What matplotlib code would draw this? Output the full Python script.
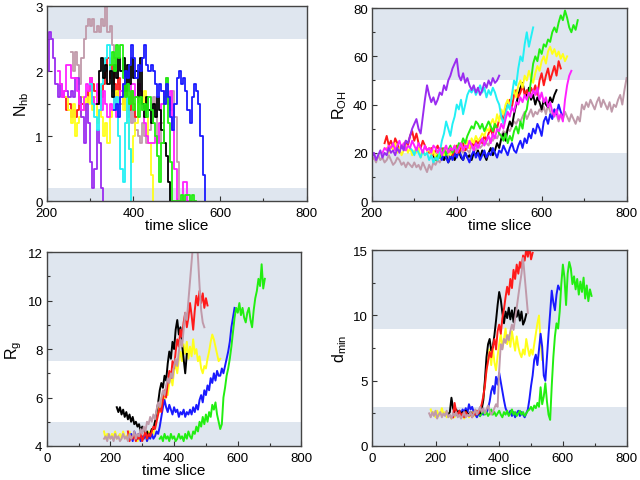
import numpy as np
import matplotlib
matplotlib.use("Agg")
import matplotlib.pyplot as plt
from matplotlib.ticker import MultipleLocator

plt.rcParams['font.family'] = ['Liberation Sans', 'DejaVu Sans']
plt.rcParams['mathtext.fontset'] = 'custom'
plt.rcParams['mathtext.rm'] = 'Liberation Sans'

DT = 5
COLORS = {
    'purple': '#9a2cf0', 'cyan': '#22f0f5', 'green': '#22ee11', 'yellow': '#ffff1a',
    'red': '#ff1a1a', 'black': '#000000', 'blue': '#1a1aff', 'magenta': '#ff22ff',
    'rosy': '#c09aaa',
}
BAND = '#dfe6ef'

# ---------------- Panel 1: N_hb ----------------
nhb_purple_start = 200
nhb_purple = [2.0, 2.6, 2.5, 2.2, 1.8, 1.6, 1.8, 1.6, 1.7, 1.7, 1.6, 1.7, 1.6, 1.9, 1.9, 1.6, 1.3, 0.9,
              1.5, 1.2, 0.6, 0.2, 0.5, 1.1, 0.9, 0.2, 0.0]
nhb_rosy_start = 255
nhb_rosy = [2.3, 2.0, 2.3, 2.1, 1.8, 2.2, 2.5, 2.7, 2.8, 2.7, 2.8, 2.6, 2.7, 2.6, 2.8, 2.7, 3.0, 2.6, 2.7,
            2.4, 2.2, 2.0, 1.8, 1.5, 1.7, 1.4, 1.3, 1.5, 1.2, 1.4, 1.1, 1.0, 0.9, 1.2, 1.0, 0.9, 1.1, 1.2,
            1.6, 1.4, 1.0, 0.9, 1.2, 1.5, 1.9, 1.6, 1.4, 1.7, 1.3, 0.6, 0.0]
nhb_black_start = 315
nhb_black = [1.5, 2.0, 2.2, 1.9, 2.1, 1.8, 2.0, 1.6, 2.1, 1.9, 2.2, 2.0, 2.2, 1.7, 2.1, 1.8, 2.2, 1.9, 2.0,
             1.6, 2.2, 1.5, 1.3, 1.6, 1.4, 1.2, 1.5, 1.3, 1.6, 1.4, 1.1, 0.9, 0.7, 0.3, 0.0]
nhb_green_start = 345
nhb_green = [2.1, 2.3, 2.0, 2.4, 2.2, 2.4, 1.9, 1.6, 1.8, 1.5, 1.7, 1.4, 1.6, 1.3, 1.6, 1.4, 1.5, 1.3, 1.6,
             1.4, 1.2, 1.0, 0.7, 0.3, 0.9, 1.6, 1.9, 1.2, 0.6, 0.0, 0.0, 0.0, 0.0, 0.1, 0.0, 0.1, 0.1,
             0.0, 0.1, 0.0, 0.0]
nhb_yellow_start = 245
nhb_yellow = [1.6, 1.4, 1.2, 1.5, 1.0, 1.2, 1.3, 1.6, 1.4, 1.6, 1.5, 1.7, 1.4, 1.6, 1.2, 1.4, 1.3, 1.0,
              1.2, 0.9, 1.3, 1.4, 1.6, 1.7, 1.5, 1.7, 1.4, 1.6, 1.2, 0.8, 0.6, 1.0, 1.2, 1.5, 1.6, 1.4,
              1.7, 1.3, 0.9, 0.4, 0.0]
nhb_red_start = 240
nhb_red = [1.6, 1.4, 1.5, 1.3, 1.4, 1.3, 1.4, 1.6, 1.5, 1.4, 1.5, 1.7, 1.9, 1.8, 1.7, 1.5, 1.7, 1.6, 1.8,
           2.0, 2.2, 1.9, 2.1, 1.8, 1.6, 1.9, 1.7, 1.5, 1.8, 1.6, 1.4, 1.7, 1.5, 1.3, 1.6]
nhb_cyan_start = 300
nhb_cyan = [1.8, 1.5, 1.3, 1.1, 1.4, 1.8, 2.0, 2.2, 2.4, 2.0, 1.7, 1.4, 1.6, 1.0, 0.5, 0.3, 1.2, 1.6,
            0.8, 0.0]
nhb_magenta_start = 225
nhb_magenta = [2.0, 1.8, 1.6, 1.7, 2.1, 2.1, 1.9, 1.9, 1.9, 1.7, 1.5, 1.4, 1.6, 1.8, 1.7, 1.9, 1.6, 1.5,
               1.8, 1.6, 1.4, 1.7, 1.5, 1.3, 1.5, 1.4, 1.6, 1.3, 1.5, 1.7, 1.8, 1.8, 1.8, 1.7, 1.8, 1.8,
               1.6, 1.8, 1.7, 1.4, 1.2, 1.0, 0.9, 0.9, 0.9, 1.0, 0.9, 1.2, 1.5, 1.7, 1.7, 1.5, 1.7, 1.1,
               0.5, 0.0, 0.0, 0.0, 0.3, 0.3, 0.0, 0.0]
nhb_blue_start = 355
nhb_blue = [1.4, 1.5, 1.3, 1.6, 1.8, 2.0, 1.9, 2.1, 2.4, 2.2, 1.9, 2.1, 2.0, 2.2, 2.4, 2.1, 2.0, 2.1, 2.0,
            1.8, 1.6, 1.8, 1.7, 1.5, 1.8, 1.6, 1.3, 1.1, 1.5, 1.9, 2.0, 1.8, 1.9, 1.7, 1.4, 1.2, 1.6,
            1.8, 1.7, 1.5, 1.0, 0.4, 0.0]

# ---------------- Panel 2: R_OH ----------------
roh_rosy_start = 200
roh_rosy = [17, 18, 16, 19, 17, 18, 16, 17, 19, 17, 15, 16, 18, 17, 15, 16, 14, 16, 15, 14, 16,
            14, 15, 13, 16, 14, 12, 15, 13, 16, 15, 17, 16, 18, 17, 19, 18, 20, 19, 21, 20,
            19, 21, 20, 22, 21, 20, 23, 22, 21, 24, 22, 23, 25, 24, 23, 26, 25, 27, 26, 28,
            27, 29, 28, 30, 29, 31, 33, 32, 34, 33, 35, 37, 34, 36, 38, 35, 37, 36, 38, 37,
            39, 36, 40, 37, 35, 38, 36, 33, 36, 34, 37, 35, 33, 36, 34, 32, 35, 33, 40, 38,
            41, 39, 42, 40, 38, 41, 43, 39, 42, 40, 38, 41, 37, 40, 39, 42, 44, 40, 46, 51]
roh_black_start = 345
roh_black = [19, 17, 20, 18, 21, 17, 19, 16, 18, 20, 17, 19, 21, 18, 17, 20, 18, 19, 17, 20, 19, 21,
             18, 21, 19, 17, 20, 22, 19, 21, 24, 22, 26, 28, 25, 30, 33, 31, 36, 40, 44, 47,
             49, 45, 43, 47, 42, 44, 40, 43, 41, 38, 42, 40, 39, 43, 41, 44, 46]
roh_blue_start = 360
roh_blue = [19, 17, 20, 18, 16, 19, 17, 20, 18, 21, 19, 17, 20, 18, 16, 19, 21, 18, 20, 17, 19, 21, 18,
            20, 19, 22, 20, 18, 21,
            20, 23, 21, 19, 22, 24, 21, 20, 23, 25, 22, 26, 24, 28, 26, 30, 28, 32, 30, 27, 33, 35,
            32, 36, 34, 38, 36, 40, 37, 35]
roh_red_start = 230
roh_red = [24, 27, 23, 25, 22, 26, 24, 21, 23, 22, 25, 23, 27, 29, 25, 28, 24, 22, 25, 23, 21,
           20, 22, 19, 21, 23, 20, 22, 19, 21, 20, 22, 19, 21, 23, 20, 22, 24, 21, 23, 22, 24, 23, 25, 24,
           26, 24, 27, 25, 28, 30, 27, 32, 30, 34, 36, 33, 38, 40, 42, 39, 44, 46, 43, 45,
           48, 44, 46, 43, 47, 45, 48, 44, 50, 53, 48, 52, 55, 50, 53, 56, 52, 58, 55]
roh_yellow_start = 235
roh_yellow = [22, 20, 23, 21, 24, 20, 22, 19, 21, 23, 20, 22, 19, 21, 20, 22, 18, 21, 19, 20, 22, 19, 21, 18,
              20, 18, 21, 19, 22, 20, 19, 21, 23, 20, 22, 24, 21, 23, 25, 22, 26, 24, 27, 25,
              26, 28, 27, 30, 29, 32, 34, 31, 36, 33, 38, 36, 40, 42, 39, 44, 46, 43, 48, 50,
              47, 52, 50, 54, 51, 49, 53, 56, 54, 58, 60, 57, 62, 64, 61, 63, 60, 62, 59, 61, 58, 60]
roh_green_start = 350
roh_green = [17, 19, 18, 20, 22, 19, 21, 23, 20, 22, 21, 24, 23, 26, 24, 27, 29, 31, 30, 33, 32,
             30, 32, 29, 31, 33, 31, 29, 32, 30, 28,
             27, 25, 28, 24, 27, 25, 29, 31, 28, 33, 30, 36, 38, 44, 50, 57,
             60, 58, 63, 61, 65, 64, 67, 66, 70, 72, 70, 74, 77, 75, 79, 76, 72, 70, 73, 71, 75]
roh_cyan_start = 290
roh_cyan = [22, 21, 19, 22, 20, 18, 21, 19, 20, 17, 19, 16, 18,
            17, 20, 25, 28, 33, 30, 27, 32, 35, 40,
            38, 42, 36, 40, 44, 46, 45, 47, 44, 46, 48, 45, 47, 43, 46, 44, 47, 45, 42, 40,
            35, 32, 36, 40, 38, 44, 50, 48, 55, 60, 58, 65, 70, 64, 68, 72]
roh_magenta_start = 225
roh_magenta = [20, 22, 21, 23, 22, 24, 21, 23, 25, 22, 24, 21, 23, 22, 25, 23, 21, 24, 22, 20, 23, 21, 22, 20, 23, 22,
               20, 22, 19, 21, 23, 20, 22, 21, 23, 20, 22, 24, 21, 23, 22, 25, 23, 21, 24, 22,
               24, 26, 23, 25, 27, 24, 28, 26, 30, 29, 32, 30, 34, 37, 35, 39, 37, 41, 40, 43,
               41, 44, 42, 45, 43, 46, 44, 47, 42, 45, 41, 43, 39, 41, 37, 35, 38, 34, 36, 33, 42, 48, 52, 54]
roh_purple_start = 200
roh_purple = [18, 20, 17, 19, 21, 18, 20, 19, 22, 20, 21, 19, 22, 20, 23, 21, 25, 24, 27, 30, 32,
              34, 30, 28, 35, 42, 48, 44, 41, 43, 40, 42, 45, 44, 48, 46, 50, 52, 55, 57, 59,
              52, 50, 53, 49, 51, 48, 46, 48, 45, 47, 44, 46, 49, 47, 50, 48, 51, 49, 50, 52]

# ---------------- Panel 3: R_g ----------------
rg_yellow_start = 180
rg_yellow = [4.6, 4.3, 4.5, 4.4, 4.3, 4.5, 4.4, 4.6, 4.3, 4.4, 4.5, 4.3, 4.6, 4.4, 4.3, 4.5, 4.6, 4.4, 4.3,
             4.5, 4.3, 4.2, 4.4, 4.3, 4.4,
             4.3, 4.5, 4.2, 4.6, 4.4, 4.7, 4.5, 4.9, 5.2, 5.6, 5.4, 5.9, 6.2, 5.9, 6.4, 6.1, 6.6, 6.9, 6.5, 7.1,
             7.4, 7.0, 7.6, 7.9, 7.5, 8.2, 7.8, 8.3, 7.6, 8.1, 7.7, 8.4, 7.8, 8.0, 7.5, 7.7, 7.2, 7.0, 7.3,
             7.2, 7.6, 7.9, 8.3, 8.6, 8.4, 8.1, 7.8, 7.5, 7.6]
rg_blue_start = 260
rg_blue = [4.3, 4.5, 4.2, 4.6, 4.4, 4.3, 4.5, 4.2, 4.4, 4.3, 4.5, 4.2, 4.4, 4.3, 4.5, 4.3, 4.4, 4.6, 4.5,
           4.8, 5.2, 5.6, 5.9, 5.6, 5.4, 5.7, 5.5, 5.3, 5.6, 5.4, 5.5, 5.2, 5.4, 5.3, 5.5, 5.2, 5.4, 5.3, 5.5,
           5.3, 5.6, 5.4, 5.7, 5.5, 5.9, 6.1, 5.8, 6.3, 6.1, 6.5, 6.3, 6.8, 6.6, 7.0, 6.7, 7.1, 6.9, 6.9, 7.2,
           7.0, 7.3, 7.6, 7.9, 8.3, 8.9, 9.3, 9.7]
rg_green_start = 355
rg_green = [4.3, 4.4, 4.2, 4.5, 4.3, 4.4, 4.2, 4.5, 4.3, 4.4, 4.2, 4.3, 4.5, 4.3, 4.4, 4.2, 4.5, 4.3, 4.6, 4.4,
            4.3, 4.6, 4.5, 4.8, 4.6, 5.0, 4.8, 5.2, 4.9, 5.3, 5.0, 5.4, 5.2, 5.7, 5.5, 5.8, 5.3, 5.0, 4.7, 4.9,
            6.0, 6.4, 6.9, 7.2, 7.6, 8.1, 8.7, 9.3, 9.7, 9.5, 9.9, 9.4, 9.7, 9.3, 9.1, 9.5, 9.7, 9.2, 8.9,
            9.6, 10.1, 10.4, 10.9, 10.6, 11.5, 10.5, 10.9]
rg_black_start = 220
rg_black = [5.6, 5.4, 5.6, 5.3, 5.5, 5.2, 5.4, 5.1, 5.3, 5.0, 5.2, 4.9, 5.0, 4.8, 4.9, 4.6, 4.8, 4.7, 4.5,
            4.6, 4.4, 4.5, 4.7,
            4.7, 5.0, 5.4, 5.8, 6.3, 6.6, 6.4, 6.9, 6.7, 7.4, 7.9, 7.6, 8.3, 8.0, 8.8, 9.2, 8.6, 8.9, 8.2,
            7.6, 7.0, 7.8]
rg_red_start = 255
rg_red = [4.6, 4.2, 4.4, 4.3, 4.5, 4.2, 4.4, 4.3, 4.5, 4.2, 4.4, 4.6, 4.3, 4.5, 4.4, 4.6, 4.8, 4.7, 5.0, 5.3,
          5.6, 5.4, 5.9, 6.3, 6.0, 6.6, 7.1, 6.8, 7.5, 7.2, 7.9, 8.4, 8.1, 8.8, 8.5, 9.1, 9.5, 8.9, 9.3,
          9.9, 9.4, 8.8, 9.6, 10.2, 9.8, 10.4, 9.9, 10.3, 9.7, 10.1, 9.8]
rg_rosy_start = 180
rg_rosy = [4.3, 4.4, 4.2, 4.5, 4.3, 4.4, 4.2, 4.5, 4.3, 4.4, 4.2, 4.3, 4.5, 4.3, 4.4, 4.2, 4.5, 4.3, 4.4,
           4.6, 4.3, 4.5, 4.4, 4.7, 4.5,
           4.8, 4.6, 5.0, 4.9, 5.2, 5.0, 5.3, 5.1, 5.5, 5.8, 5.6, 6.0, 6.3, 6.1, 6.5, 6.8, 6.6, 7.0, 6.8, 7.3,
           7.6, 7.3, 7.9, 8.4, 8.1, 8.8, 9.5, 9.2, 10.0, 10.8, 11.6, 12.4, 12.1, 12.8, 11.8, 10.6, 9.6,
           9.1, 8.9]

# ---------------- Panel 4: d_min ----------------
dm_yellow_start = 185
dm_yellow = [2.8, 2.4, 2.6, 2.2, 2.7, 2.3, 2.5, 2.9, 2.4, 2.6, 2.2, 2.5, 2.3, 2.1, 2.4, 2.2, 2.6, 2.3, 2.5,
             2.2, 2.4, 2.1, 2.3, 2.5, 2.2, 2.4, 2.6, 2.3, 2.5, 2.7, 2.4, 2.6,
             3.0, 3.6, 4.8, 5.8, 6.6, 7.4, 6.2, 7.6, 6.4, 5.8, 6.9, 7.8, 8.6, 7.5, 8.2, 9.0, 7.8, 8.5, 7.6,
             8.8, 8.0, 7.3, 8.4, 7.6, 7.1, 6.8, 7.4, 7.0, 8.2, 7.5, 6.9, 7.4, 7.0, 7.8, 8.6, 9.4, 10.0,
             8.0, 6.6]
dm_blue_start = 265
dm_blue = [2.5, 2.3, 2.7, 2.4, 2.8, 2.6, 2.9, 2.5, 3.2, 2.8, 3.0, 2.6, 2.4, 2.2, 2.5, 2.3, 2.6, 2.4,
           2.6, 2.5, 2.9, 3.4, 4.2, 4.6, 4.0, 5.3, 4.7, 5.6, 4.9, 4.2, 3.5, 2.9, 2.6, 2.4, 2.7, 2.3, 2.6,
           2.2, 2.5, 2.7, 2.3, 2.6, 2.4, 2.2, 2.5,
           2.8, 3.6, 4.6, 5.4, 6.6, 7.0, 6.2, 7.4, 8.6, 7.6, 5.4, 5.0, 6.8, 8.6, 10.2, 11.9, 11.0, 10.4,
           11.6, 12.3, 12.0]
dm_green_start = 340
dm_green = [2.3, 2.5, 2.7, 2.4, 2.6, 2.3, 2.5, 2.8, 2.4, 2.6, 2.3, 2.5, 2.7, 2.4, 2.2, 2.6, 2.4, 2.7,
            2.3, 2.5, 2.8, 2.4, 2.6, 2.3, 2.5, 2.7, 2.4, 2.6, 2.3, 2.5, 2.7,
            2.8, 3.0, 2.7, 3.1, 2.9, 3.3, 3.0, 4.5, 3.2, 3.8, 4.8, 3.4, 2.4, 2.0, 4.6, 6.8, 8.4, 9.4,
            9.0, 10.3, 12.4, 13.9, 12.9, 10.8, 13.2, 14.1, 13.6, 12.4, 13.0, 12.0, 12.8, 11.6, 12.6,
            11.8, 12.9, 11.3, 12.3, 11.1, 12.0, 11.5]
dm_black_start = 240
dm_black = [2.4, 2.6, 3.7, 2.9, 2.6, 2.8, 2.5, 2.7, 2.4, 2.6, 2.3, 2.7, 2.5, 2.4, 2.6, 2.3, 2.5, 2.7,
            2.4, 2.6, 2.5,
            2.8, 3.5, 5.0, 6.8, 7.8, 8.2, 7.3, 7.6, 8.5, 9.6, 10.8, 11.8, 11.2, 10.2, 9.4, 10.3, 9.8,
            10.6, 9.7, 10.4, 9.5, 10.6, 9.9, 10.4, 9.6, 10.3, 9.3, 9.6, 10.1]
dm_red_start = 255
dm_red = [2.2, 3.3, 2.6, 2.4, 2.7, 2.3, 2.5, 2.2, 2.6, 2.4, 2.3, 2.5, 2.2, 2.6, 2.4, 2.7, 2.5, 2.8, 3.2,
          3.8, 4.6, 5.8, 6.5, 7.2, 6.8, 7.6, 8.2, 7.4, 8.8, 9.3, 8.6, 9.8, 10.5, 11.4, 12.2, 11.6, 12.8,
          12.1, 13.5, 12.8, 13.9, 13.2, 14.1, 13.6, 14.6, 14.2, 15.1, 14.5, 15.3, 14.3, 14.8]
dm_rosy_start = 180
dm_rosy = [2.5, 2.2, 2.6, 2.3, 2.7, 2.1, 2.4, 2.6, 2.2, 2.5, 2.3, 2.7, 2.2, 2.4, 2.1, 2.5, 2.3, 2.6,
           2.2, 2.4, 2.1, 2.3, 2.6, 2.2, 2.4,
           2.3, 2.6, 2.2, 2.5, 2.8, 2.4, 2.7, 3.0, 2.6, 2.9, 2.5, 2.8, 3.1, 2.7, 2.4, 2.6, 2.9, 3.2, 3.0,
           5.8, 7.8, 7.4, 8.2, 7.9, 8.5, 8.1, 8.8, 9.3, 8.9, 9.8, 10.6, 11.5, 12.4, 13.2, 14.4, 13.0,
           11.6, 10.2]

panels = [
    dict(rect=[0.073, 0.580, 0.406, 0.405], xlim=(200, 800), ylim=(0, 3), ymaj=1, ymin=0.5,
         bands=[(2.5, 3), (0, 0.2)], ylabel='N$_\\mathregular{hb}$', step=True,
         traces=[('rosy', nhb_rosy_start, nhb_rosy), ('red', nhb_red_start, nhb_red),
                 ('yellow', nhb_yellow_start, nhb_yellow), ('purple', nhb_purple_start, nhb_purple),
                 ('magenta', nhb_magenta_start, nhb_magenta), ('cyan', nhb_cyan_start, nhb_cyan),
                 ('black', nhb_black_start, nhb_black), ('green', nhb_green_start, nhb_green),
                 ('blue', nhb_blue_start, nhb_blue)]),
    dict(rect=[0.581, 0.580, 0.398, 0.401], xlim=(200, 800), ylim=(0, 80), ymaj=20, ymin=10,
         bands=[(50, 80), (0, 20)], ylabel='R$_\\mathregular{OH}$', step=False,
         traces=[('rosy', roh_rosy_start, roh_rosy), ('black', roh_black_start, roh_black),
                 ('blue', roh_blue_start, roh_blue), ('red', roh_red_start, roh_red),
                 ('yellow', roh_yellow_start, roh_yellow), ('green', roh_green_start, roh_green),
                 ('cyan', roh_cyan_start, roh_cyan), ('magenta', roh_magenta_start, roh_magenta),
                 ('purple', roh_purple_start, roh_purple)]),
    dict(rect=[0.073, 0.0707, 0.398, 0.403], xlim=(0, 800), ylim=(4, 12), ymaj=2, ymin=1,
         bands=[(7.5, 12), (4, 5)], ylabel='R$_\\mathregular{g}$', step=False,
         traces=[('yellow', rg_yellow_start, rg_yellow), ('blue', rg_blue_start, rg_blue),
                 ('green', rg_green_start, rg_green), ('black', rg_black_start, rg_black),
                 ('red', rg_red_start, rg_red), ('rosy', rg_rosy_start, rg_rosy)]),
    dict(rect=[0.581, 0.0707, 0.398, 0.407], xlim=(0, 800), ylim=(0, 15), ymaj=5, ymin=2.5,
         bands=[(9, 15), (0, 3)], ylabel='d$_\\mathregular{min}$', step=False,
         traces=[('yellow', dm_yellow_start, dm_yellow), ('blue', dm_blue_start, dm_blue),
                 ('green', dm_green_start, dm_green), ('black', dm_black_start, dm_black),
                 ('red', dm_red_start, dm_red), ('rosy', dm_rosy_start, dm_rosy)]),
]

fig = plt.figure(figsize=(6.4, 4.81), dpi=100)
for p in panels:
    ax = fig.add_axes(p['rect'])
    for lo, hi in p['bands']:
        ax.axhspan(lo, hi, color=BAND, lw=0, zorder=0)
    for cname, start, vals in p['traces']:
        t = start + DT * np.arange(len(vals))
        if p['step']:
            ax.step(t, vals, where='post', color=COLORS[cname], lw=1.3, zorder=2)
        else:
            ax.plot(t, vals, color=COLORS[cname], lw=1.4, zorder=2)
    ax.set_xlim(*p['xlim'])
    ax.set_ylim(*p['ylim'])
    ax.xaxis.set_major_locator(MultipleLocator(200))
    ax.xaxis.set_minor_locator(MultipleLocator(100))
    ax.yaxis.set_major_locator(MultipleLocator(p['ymaj']))
    ax.yaxis.set_minor_locator(MultipleLocator(p['ymin']))
    ax.tick_params(which='both', direction='in', colors='#333333', labelcolor='black', labelsize=9.5,
                   width=0.8)
    ax.tick_params(which='major', length=3.5)
    ax.tick_params(which='minor', length=2.5)
    ax.tick_params(axis='x', which='major', pad=4.5)
    ax.tick_params(axis='y', which='major', pad=3)
    for s in ax.spines.values():
        s.set_color('#444444')
        s.set_linewidth(1.0)
    ax.set_xlabel('time slice', fontsize=11, labelpad=-1)
    ax.set_ylabel(p['ylabel'], fontsize=11.5, labelpad=3)

fig.savefig('out.png', dpi=100)
